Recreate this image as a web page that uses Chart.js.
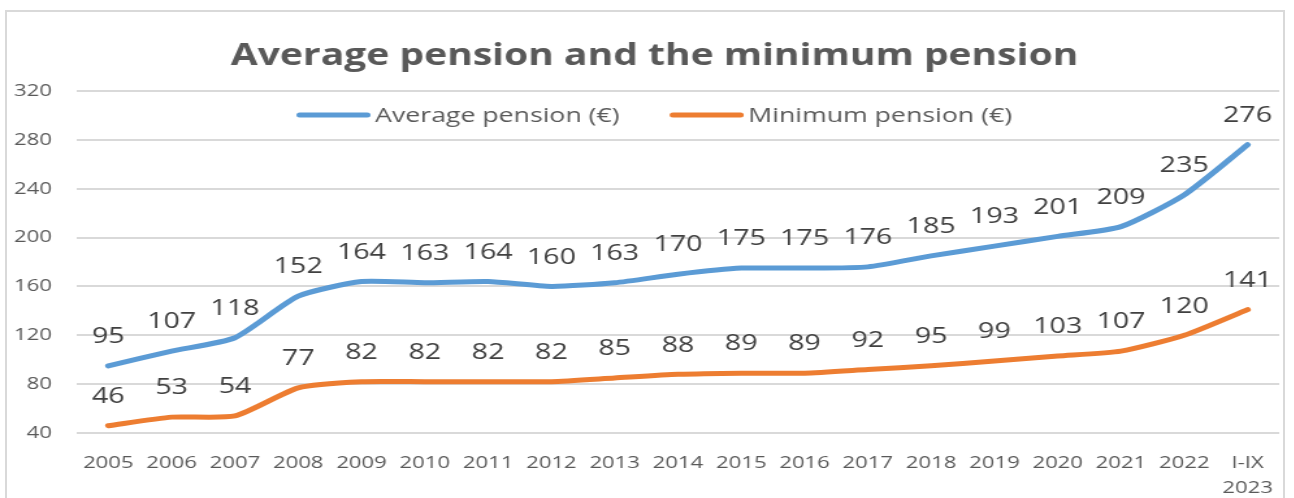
<!DOCTYPE html>
<html>
<head>
<meta charset="utf-8">
<script src="https://cdn.jsdelivr.net/npm/chart.js@4"></script>
<style>
  html, body { margin: 0; padding: 0; background: #fff; overflow: hidden; }
  .frame {
    position: absolute; left: 5px; top: 10px; width: 1280px; height: 500px;
    border: 2px solid #d9d9d9; box-sizing: border-box;
  }
  /* the reference is stretched sideways, so draw narrow and widen it */
  .wrap {
    position: absolute; left: 0; top: 0; width: 995px; height: 498px;
    transform: scaleX(1.3); transform-origin: 0 0;
  }
</style>
</head>
<body>
<div class="frame"></div>
<div class="wrap"><canvas id="chart"></canvas></div>
<script>
const years = ['2005', '2006', '2007', '2008', '2009', '2010', '2011', '2012', '2013', '2014',
  '2015', '2016', '2017', '2018', '2019', '2020', '2021', '2022', ['I-IX', '2023']];
const averagePension = [95, 107, 118, 152, 164, 163, 164, 160, 163, 170, 175, 175, 176, 185, 193, 201, 209, 235, 276];
const minimumPension = [46, 53, 54, 77, 82, 82, 82, 82, 85, 88, 89, 89, 92, 95, 99, 103, 107, 120, 141];
const seriesNames = ['Average pension (€)', 'Minimum pension (€)'];
const chartTitle = 'Average pension and the minimum pension';
const yMin = 40;
const yMax = 320;
const yStep = 40;

const colors = ['#5B9BD5', '#ED7D31'];
const FONT = '"Open Sans", sans-serif';
const headCenter = c => c.width / 2 + 6;   // title and legend sit a bit right of middle

// title drawn by hand so it can sit off-centre without moving the axes
const titleText = {
  id: 'titleText',
  afterDraw(chart) {
    const ctx = chart.ctx;
    ctx.save();
    ctx.font = 'bold 30px ' + FONT;
    ctx.fillStyle = '#595959';
    ctx.textAlign = 'center';
    ctx.textBaseline = 'middle';
    ctx.fillText(chartTitle, headCenter(chart), 56);
    ctx.restore();
  }
};

// value labels above every point
const pointLabels = {
  id: 'pointLabels',
  afterDatasetsDraw(chart) {
    const ctx = chart.ctx;
    ctx.save();
    ctx.font = '22px ' + FONT;
    ctx.fillStyle = '#404040';
    ctx.textAlign = 'center';
    ctx.textBaseline = 'middle';
    chart.data.datasets.forEach((ds, i) => {
      chart.getDatasetMeta(i).data.forEach((pt, j) => {
        ctx.fillText(ds.data[j], pt.x, pt.y - 29);
      });
    });
    ctx.restore();
  }
};

// legend sits inside the plot, just under the top gridline
const overlayLegend = {
  id: 'overlayLegend',
  afterDatasetsDraw(chart) {
    const ctx = chart.ctx;
    const lineLen = 56, gap = 4, itemGap = 39;
    ctx.save();
    ctx.font = '20.5px ' + FONT;
    const items = chart.data.datasets.map(ds => ({
      text: ds.label, color: ds.borderColor, w: ctx.measureText(ds.label).width
    }));
    const total = items.reduce((s, it) => s + lineLen + gap + it.w, 0) + itemGap * (items.length - 1);
    let x = headCenter(chart) - total / 2;
    const y = chart.chartArea.top + 24;
    ctx.textBaseline = 'middle';
    ctx.textAlign = 'left';
    items.forEach(it => {
      ctx.strokeStyle = it.color;
      ctx.lineWidth = 5;
      ctx.lineCap = 'round';
      ctx.beginPath();
      ctx.moveTo(x + 2, y);
      ctx.lineTo(x + lineLen - 2, y);
      ctx.stroke();
      ctx.fillStyle = '#595959';
      ctx.fillText(it.text, x + lineLen + gap, y + 1);
      x += lineLen + gap + it.w + itemGap;
    });
    ctx.restore();
  }
};

const ctx = document.getElementById('chart').getContext('2d');
new Chart(ctx, {
  type: 'line',
  data: {
    labels: years,
    datasets: [
      {
        label: seriesNames[0],
        data: averagePension,
        borderColor: colors[0],
        backgroundColor: colors[0],
        borderWidth: 5,
        pointRadius: 0,
        tension: 0.2,
        borderCapStyle: 'round',
        borderJoinStyle: 'round',
      },
      {
        label: seriesNames[1],
        data: minimumPension,
        borderColor: colors[1],
        backgroundColor: colors[1],
        borderWidth: 5,
        pointRadius: 0,
        tension: 0.2,
        borderCapStyle: 'round',
        borderJoinStyle: 'round',
      }
    ]
  },
  options: {
    responsive: true,
    maintainAspectRatio: false,
    animation: false,
    layout: { padding: { left: 0, right: 11, top: 91, bottom: 0 } },
    plugins: {
      legend: { display: false },
      tooltip: { enabled: false },
      title: { display: false },
    },
    scales: {
      x: {
        offset: true,
        grid: { display: false, offset: true },
        border: { display: false },
        ticks: {
          color: '#595959',
          font: { family: FONT, size: 17, lineHeight: 1.5 },
          padding: 9,
          maxRotation: 0,
          autoSkip: false,
        },
        afterFit(scale) { scale.height = 65; },
      },
      y: {
        min: yMin,
        max: yMax,
        grid: { color: '#d9d9d9', lineWidth: 2, drawTicks: false },
        border: { display: false },
        ticks: {
          stepSize: yStep,
          color: '#595959',
          font: { family: FONT, size: 17 },
          padding: 19,
        },
        afterFit(scale) { scale.width = 59; },
      }
    }
  },
  plugins: [pointLabels, overlayLegend, titleText]
});
</script>
</body>
</html>
